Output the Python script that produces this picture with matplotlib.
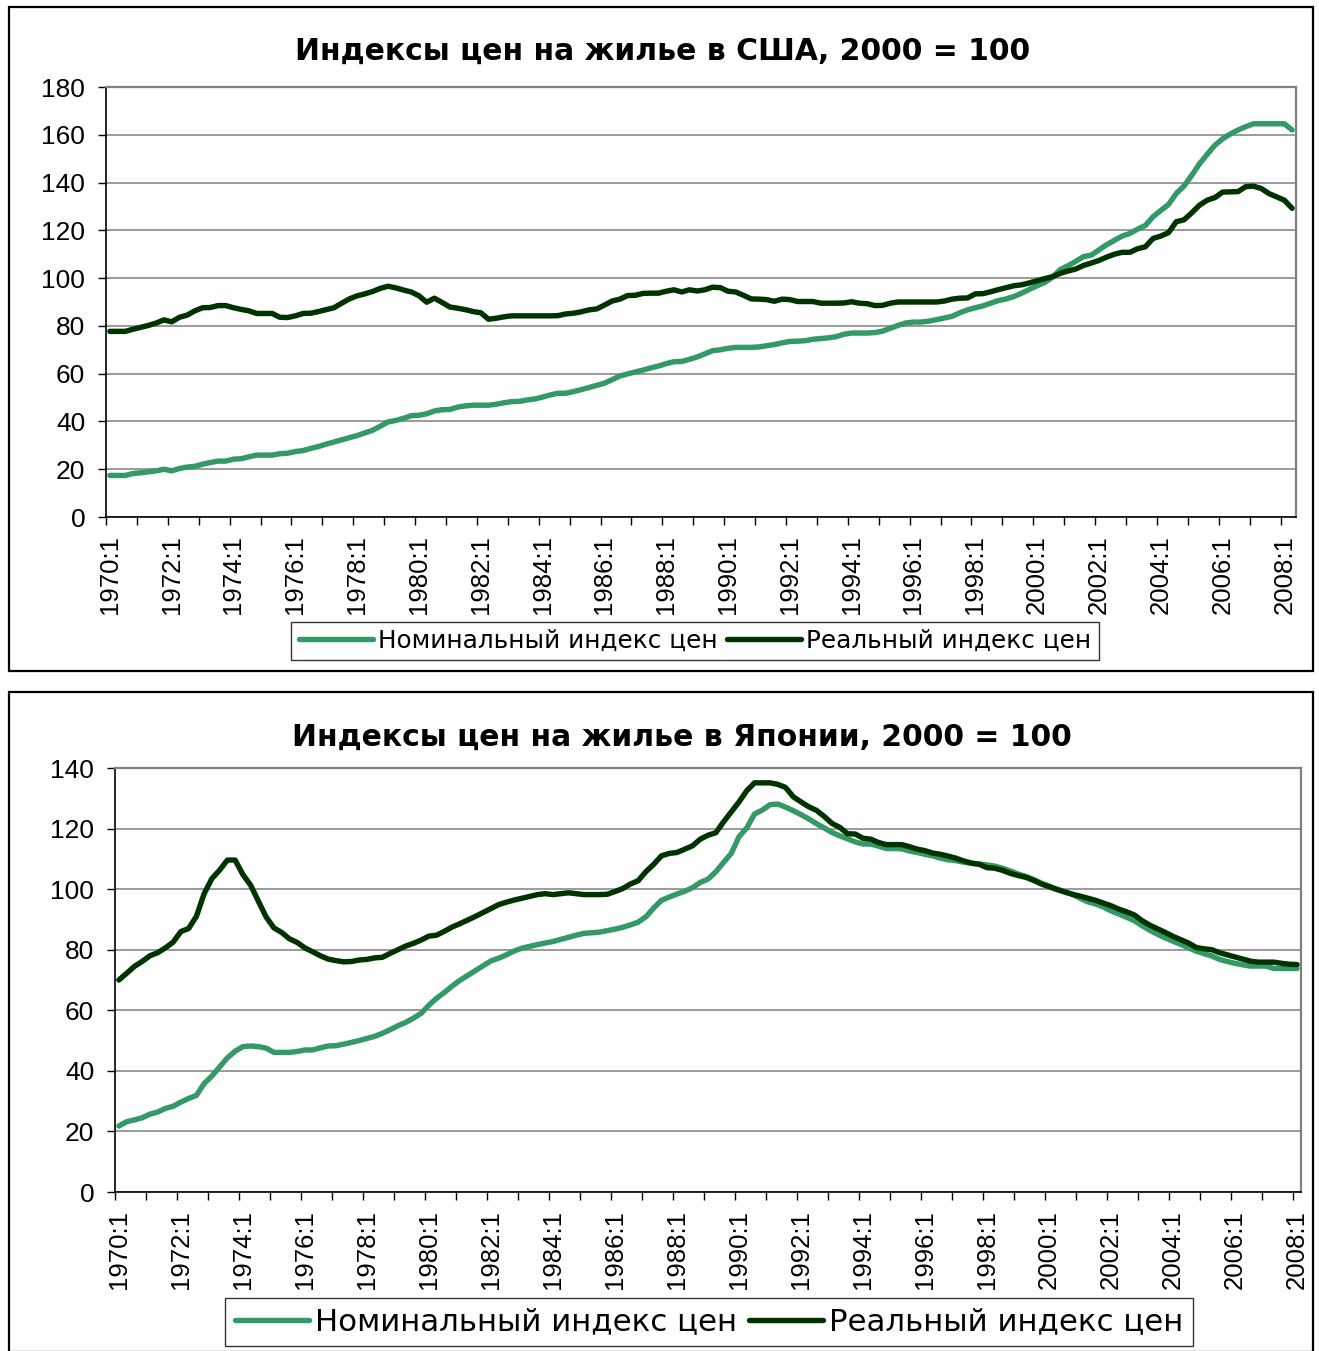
import numpy as np
import matplotlib.pyplot as plt
from matplotlib.patches import Rectangle

## quarterly categories
quarters_us = [f"{1970 + i // 4}:{i % 4 + 1}" for i in range(154)]   # 1970:1 - 2008:2
quarters_jp = [f"{1970 + i // 4}:{i % 4 + 1}" for i in range(153)]   # 1970:1 - 2008:1

## USA, 2000 = 100
us_nominal = [17.4, 17.4, 17.4, 18.2, 18.5, 18.9, 19.3, 20.0, 19.3, 20.3, 20.9, 21.2, 22.1, 22.8, 23.4, 23.4,
              24.2, 24.4, 25.2, 25.9, 25.9, 25.9, 26.5, 26.7, 27.4, 27.8, 28.7, 29.5, 30.5, 31.4, 32.3, 33.2,
              34.1, 35.2, 36.3, 38.0, 39.8, 40.4, 41.3, 42.4, 42.6, 43.2, 44.4, 44.9, 45.0, 46.0, 46.5, 46.8,
              46.8, 46.8, 47.2, 47.8, 48.3, 48.4, 49.0, 49.4, 50.2, 51.1, 51.8, 51.8, 52.5, 53.3, 54.2, 55.1,
              56.0, 57.5, 59.0, 59.9, 60.7, 61.5, 62.4, 63.2, 64.2, 65.0, 65.1, 66.0, 67.0, 68.3, 69.6, 70.0,
              70.6, 71.0, 71.0, 71.0, 71.2, 71.7, 72.2, 72.9, 73.5, 73.6, 73.8, 74.4, 74.7, 75.0, 75.5, 76.5,
              77.0, 77.0, 77.0, 77.2, 77.8, 79.0, 80.2, 81.2, 81.6, 81.6, 82.0, 82.6, 83.3, 84.0, 85.5, 86.7,
              87.6, 88.4, 89.5, 90.6, 91.3, 92.3, 93.7, 95.3, 96.8, 98.2, 100.4, 103.6, 105.2, 107.0, 109.0, 109.6,
              111.8, 114.0, 115.8, 117.6, 118.7, 120.5, 122.0, 125.7, 128.3, 130.8, 135.4, 138.5, 143.0, 147.8, 151.8, 155.6,
              158.3, 160.3, 162.0, 163.4, 164.6, 164.6, 164.6, 164.6, 164.6, 162.0]
us_real = [77.7, 77.7, 77.7, 78.6, 79.4, 80.2, 81.2, 82.5, 81.7, 83.6, 84.5, 86.3, 87.6, 87.7, 88.5, 88.5,
           87.6, 86.9, 86.3, 85.2, 85.2, 85.2, 83.6, 83.5, 84.2, 85.2, 85.3, 86.0, 86.8, 87.6, 89.5, 91.3,
           92.6, 93.4, 94.4, 95.7, 96.6, 95.9, 95.0, 94.2, 92.6, 89.9, 91.6, 89.8, 87.9, 87.4, 86.8, 86.0,
           85.5, 82.8, 83.2, 83.8, 84.2, 84.2, 84.2, 84.2, 84.2, 84.2, 84.3, 85.0, 85.3, 85.9, 86.7, 87.1,
           88.7, 90.4, 91.2, 92.7, 92.8, 93.6, 93.7, 93.7, 94.5, 95.1, 94.2, 95.1, 94.6, 95.1, 96.2, 96.0,
           94.5, 94.2, 92.8, 91.3, 91.2, 91.0, 90.3, 91.2, 91.0, 90.2, 90.2, 90.2, 89.5, 89.5, 89.5, 89.6,
           90.1, 89.5, 89.3, 88.5, 88.6, 89.5, 90.0, 90.0, 90.0, 90.0, 90.0, 90.0, 90.4, 91.2, 91.6, 91.7,
           93.4, 93.5, 94.3, 95.2, 96.0, 96.8, 97.2, 98.0, 98.9, 99.8, 100.6, 102.0, 103.0, 103.8, 105.3, 106.3,
           107.4, 108.8, 110.0, 110.8, 110.8, 112.3, 113.1, 116.6, 117.6, 119.0, 123.6, 124.4, 127.3, 130.5, 132.6, 133.7,
           136.0, 136.1, 136.2, 138.3, 138.5, 137.5, 135.4, 134.0, 132.6, 129.2]

## Japan, 2000 = 100
jp_nominal = [21.8, 23.2, 23.8, 24.5, 25.7, 26.4, 27.6, 28.3, 29.7, 30.9, 31.9, 35.8, 38.3, 41.3, 44.3, 46.5,
              48.0, 48.2, 48.0, 47.5, 46.1, 46.1, 46.1, 46.4, 46.9, 46.9, 47.6, 48.2, 48.3, 48.8, 49.4, 50.0,
              50.7, 51.4, 52.4, 53.6, 54.9, 56.0, 57.4, 59.0, 61.7, 64.0, 65.9, 68.0, 69.9, 71.5, 73.1, 74.7,
              76.3, 77.2, 78.3, 79.6, 80.5, 81.1, 81.7, 82.2, 82.7, 83.4, 84.1, 84.8, 85.4, 85.6, 85.8, 86.3,
              86.8, 87.4, 88.2, 89.1, 90.9, 93.8, 96.3, 97.4, 98.4, 99.3, 100.5, 102.2, 103.3, 105.7, 108.8, 111.8,
              117.3, 120.2, 124.8, 126.1, 127.9, 128.1, 127.1, 125.9, 124.6, 123.2, 121.6, 120.2, 118.7, 117.6, 116.6, 115.6,
              114.9, 114.9, 114.2, 113.4, 113.4, 113.3, 112.6, 112.1, 111.5, 111.0, 110.2, 109.7, 109.4, 108.9, 108.5, 108.3,
              108.0, 107.6, 106.9, 106.0, 105.0, 104.2, 103.2, 102.0, 101.0, 100.0, 99.1, 98.3, 97.0, 95.8, 95.1, 94.1,
              92.8, 91.8, 90.7, 89.6, 87.9, 86.4, 85.1, 83.9, 82.8, 81.8, 80.6, 79.5, 78.7, 77.9, 76.8, 76.1,
              75.5, 75.0, 74.6, 74.6, 74.6, 73.8, 73.8, 73.8, 73.8]
jp_real = [70.0, 72.2, 74.5, 76.1, 78.0, 79.0, 80.6, 82.5, 86.0, 87.0, 91.0, 98.5, 103.5, 106.3, 109.6, 109.6,
           104.8, 101.3, 96.0, 90.8, 87.2, 85.7, 83.6, 82.4, 80.6, 79.3, 78.0, 76.9, 76.4, 76.0, 76.1, 76.6,
           76.8, 77.3, 77.5, 78.8, 80.0, 81.2, 82.1, 83.2, 84.5, 84.8, 86.1, 87.5, 88.6, 89.8, 91.0, 92.3,
           93.6, 94.9, 95.7, 96.4, 97.0, 97.6, 98.2, 98.5, 98.2, 98.5, 98.8, 98.5, 98.2, 98.2, 98.2, 98.3,
           99.2, 100.2, 101.7, 102.8, 105.8, 108.2, 111.0, 111.8, 112.1, 113.2, 114.3, 116.5, 117.8, 118.6, 122.2, 125.5,
           128.8, 132.5, 135.1, 135.1, 135.1, 134.6, 133.6, 130.5, 128.8, 127.2, 126.0, 124.0, 121.7, 120.4, 118.3, 118.2,
           116.8, 116.5, 115.4, 114.7, 114.7, 114.7, 114.0, 113.2, 112.7, 111.9, 111.5, 110.9, 110.2, 109.3, 108.6, 108.2,
           107.1, 106.9, 106.2, 105.2, 104.5, 103.9, 102.9, 101.7, 100.8, 99.9, 99.1, 98.3, 97.7, 97.0, 96.3, 95.4,
           94.5, 93.4, 92.5, 91.5, 89.6, 88.1, 86.9, 85.7, 84.4, 83.3, 82.2, 80.7, 80.3, 80.0, 79.0, 78.3,
           77.6, 76.9, 76.2, 75.9, 75.9, 75.9, 75.5, 75.2, 75.1]

series_names = ['Номинальный индекс цен', 'Реальный индекс цен']
GREEN = '#339966'
DARK = '#003300'
W, H = 1319, 1351

fig = plt.figure(figsize=(W / 100, H / 100), dpi=100)

def px_rect(x0, y0, x1, y1):
    # pixel box (top-left origin) -> figure fraction [l, b, w, h]
    return [x0 / W, 1 - y1 / H, (x1 - x0) / W, (y1 - y0) / H]

# panel frames
for (x0, y0, x1, y1) in [(9, 7, 1313, 671), (9, 692, 1313, 1352)]:
    r = px_rect(x0, y0, x1, y1)
    fig.patches.append(Rectangle((r[0], r[1]), r[2], r[3], transform=fig.transFigure,
                                 fill=False, edgecolor='black', linewidth=1.6))


def draw_panel(box, cats, nominal, real, ymax, title, title_xy, leg_box, leg_size, leg_handle):
    ax = fig.add_axes(px_rect(*box))
    x = np.arange(len(cats))
    ax.plot(x, nominal, color=GREEN, lw=3.9, solid_capstyle='round', solid_joinstyle='round', label=series_names[0])
    ax.plot(x, real, color=DARK, lw=3.9, solid_capstyle='round', solid_joinstyle='round', label=series_names[1])
    ax.set_xlim(-0.5, len(cats) - 0.5)
    ax.set_ylim(0, ymax)
    ax.set_yticks(np.arange(0, ymax + 1, 20))
    ax.yaxis.grid(True, color='#808080', lw=1.1)
    ax.set_axisbelow(True)
    ax.set_xticks(np.arange(0, len(cats), 8))
    ax.set_xticklabels([cats[i] for i in range(0, len(cats), 8)], rotation=90)
    ax.set_xticks(np.arange(-0.5, len(cats), 4), minor=True)
    ax.tick_params(axis='x', which='major', length=0, pad=13, labelsize=18.5)
    ax.tick_params(axis='x', which='minor', length=6, width=1, color='black', direction='out')
    ax.tick_params(axis='y', length=6, width=1, pad=9, labelsize=19)
    for lab in ax.get_xticklabels() + ax.get_yticklabels():
        lab.set_fontfamily('Liberation Sans')
    ax.spines['top'].set_color('#808080')
    ax.spines['right'].set_color('#808080')
    ax.spines['top'].set_linewidth(1.6)
    ax.spines['right'].set_linewidth(1.6)
    ax.spines['left'].set_linewidth(1.2)
    ax.spines['bottom'].set_linewidth(1.2)
    fig.text(title_xy[0] / W, 1 - title_xy[1] / H, title, ha='center', va='center',
             fontsize=21.5, fontweight='bold', family='DejaVu Sans')
    lb = px_rect(*leg_box)
    leg = ax.legend(loc='center', bbox_to_anchor=(lb[0] + lb[2] / 2, lb[1] + lb[3] / 2),
                    bbox_transform=fig.transFigure, ncol=2, frameon=True, fancybox=False,
                    prop={'family': 'DejaVu Sans', 'size': leg_size}, handlelength=leg_handle,
                    handletextpad=0.2, columnspacing=0.4, borderpad=0.3)
    leg.get_frame().set_edgecolor('black')
    leg.get_frame().set_linewidth(1.0)
    return ax


draw_panel((106, 87, 1296, 517), quarters_us, us_nominal, us_real, 180,
           'Индексы цен на жилье в США, 2000 = 100', (663, 51),
           (286, 618, 1104, 664), 17.8, 3.0)
draw_panel((115, 768, 1301, 1192), quarters_jp, jp_nominal, jp_real, 140,
           'Индексы цен на жилье в Японии, 2000 = 100', (682, 737),
           (226, 1296, 1192, 1348), 22.2, 2.4)

plt.savefig('out.png', dpi=100)
